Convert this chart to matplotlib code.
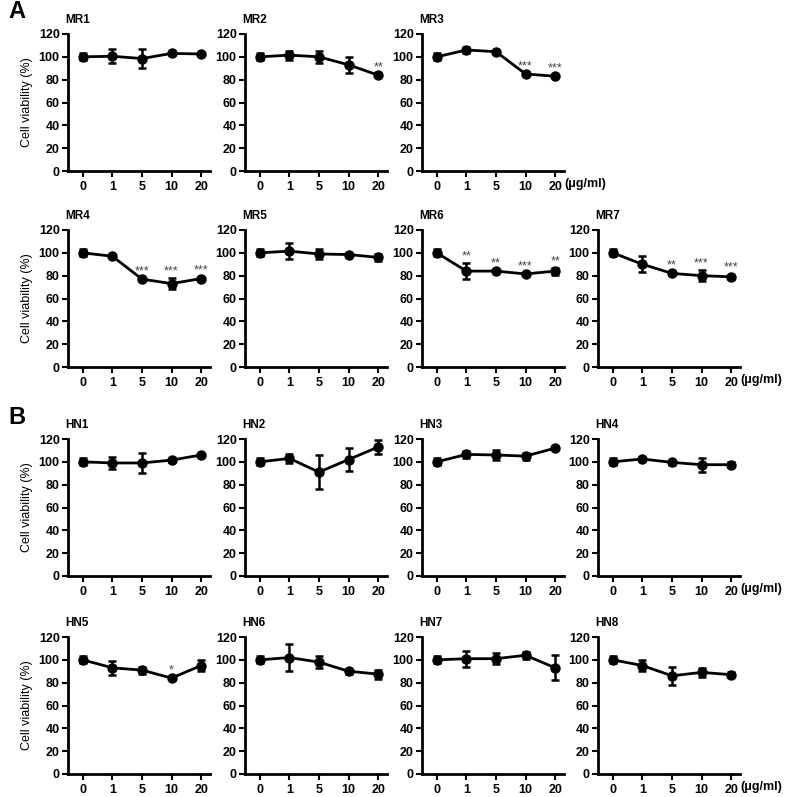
import matplotlib.pyplot as plt

plt.rcParams['font.family'] = ['Liberation Sans', 'DejaVu Sans']

doses = ['0', '1', '5', '10', '20']

# mean viability (%) and error for each cell line
mr1 = [100, 100.5, 98.5, 103, 102.5]
mr1_err = [3, 6, 8, 1, 1]
mr2 = [100, 101.5, 100, 93, 84]
mr2_err = [3, 4, 5, 7, 1]
mr3 = [100, 106, 104.5, 85, 83]
mr3_err = [3, 3, 1, 1, 1]
mr4 = [100, 97, 77, 73, 77.5]
mr4_err = [3, 1, 1, 5, 1]
mr5 = [100, 101.5, 99, 98.5, 96]
mr5_err = [3, 7, 4, 1, 3]
mr6 = [100, 84, 84, 81.5, 84]
mr6_err = [3, 7, 1, 1, 3]
mr7 = [100, 90, 82, 80, 79]
mr7_err = [3, 7, 1, 5, 2]

hn1 = [100, 99, 99, 101.5, 106]
hn1_err = [3, 5, 9, 2, 1]
hn2 = [100, 103, 91, 102, 113]
hn2_err = [3, 4, 15, 10, 6]
hn3 = [100, 106.5, 106, 105, 112]
hn3_err = [3, 3, 4, 3, 1]
hn4 = [100, 102.5, 99.5, 97.5, 97.5]
hn4_err = [3, 1, 2, 6, 2]
hn5 = [100, 93, 91, 84, 95]
hn5_err = [3, 6, 3, 1, 5]
hn6 = [100, 102, 98, 90, 87.5]
hn6_err = [3, 12, 5, 2, 4]
hn7 = [100, 101, 101, 104, 93]
hn7_err = [3, 7, 5, 3, 11]
hn8 = [100, 95, 86, 89, 87]
hn8_err = [3, 5, 8, 4, 2]

# significance marks per dose
mr2_sig = ['', '', '', '', '**']
mr3_sig = ['', '', '', '***', '***']
mr4_sig = ['', '', '***', '***', '***']
mr6_sig = ['', '**', '**', '***', '**']
mr7_sig = ['', '', '**', '***', '***']
hn5_sig = ['', '', '', '*', '']
none = ['', '', '', '', '']

# (name, values, err, stars, row, col)
panels = [
    ('MR1', mr1, mr1_err, none, 0, 0),
    ('MR2', mr2, mr2_err, mr2_sig, 0, 1),
    ('MR3', mr3, mr3_err, mr3_sig, 0, 2),
    ('MR4', mr4, mr4_err, mr4_sig, 1, 0),
    ('MR5', mr5, mr5_err, none, 1, 1),
    ('MR6', mr6, mr6_err, mr6_sig, 1, 2),
    ('MR7', mr7, mr7_err, mr7_sig, 1, 3),
    ('HN1', hn1, hn1_err, none, 2, 0),
    ('HN2', hn2, hn2_err, none, 2, 1),
    ('HN3', hn3, hn3_err, none, 2, 2),
    ('HN4', hn4, hn4_err, none, 2, 3),
    ('HN5', hn5, hn5_err, hn5_sig, 3, 0),
    ('HN6', hn6, hn6_err, none, 3, 1),
    ('HN7', hn7, hn7_err, none, 3, 2),
    ('HN8', hn8, hn8_err, none, 3, 3),
]
last_in_row = {'MR3', 'MR7', 'HN4', 'HN8'}

W, H = 786, 797
fig = plt.figure(figsize=(W / 100, H / 100), dpi=100)

col_x = [68, 245, 422, 598]
row_base = [171, 367, 576, 774]
ax_w, ax_h = 142, 137

x = list(range(len(doses)))
for name, vals, err, sig, r, c in panels:
    ax = fig.add_axes([col_x[c] / W, 1 - row_base[r] / H, ax_w / W, ax_h / H])
    ax.errorbar(x, vals, yerr=err, color='black', lw=2, marker='o', ms=6.5,
                capsize=3, capthick=1.8, elinewidth=1.8)
    for i, s in enumerate(sig):
        if s:
            ax.annotate(s, (i, vals[i] + err[i]), xytext=(0, 0.5), textcoords='offset points',
                        ha='center', va='bottom', fontsize=9, color='#444444')
    ax.set_xlim(-0.5, 4.3)
    ax.set_ylim(0, 120)
    ax.set_yticks(range(0, 121, 20))
    ax.set_xticks(x)
    ax.set_xticklabels(doses)
    for sp in ['top', 'right']:
        ax.spines[sp].set_visible(False)
    for sp in ['left', 'bottom']:
        ax.spines[sp].set_linewidth(2)
    ax.tick_params(width=1.5, length=4, labelsize=9)
    for lbl in ax.get_xticklabels() + ax.get_yticklabels():
        lbl.set_fontweight('bold')
    ax.xaxis.set_tick_params(pad=3)
    ax.yaxis.set_tick_params(pad=2)
    ax.set_title(name, loc='left', fontsize=8.5, fontweight='bold', x=-0.02, pad=8)
    if c == 0:
        ax.set_ylabel('Cell viability (%)', fontsize=9, labelpad=4)
    if name in last_in_row:
        ax.text(1.0, -0.095, '(μg/ml)', transform=ax.transAxes, ha='left', va='center',
                fontsize=9, fontweight='bold')

fig.text(8 / W, 1 - 12 / H, 'A', fontsize=17, fontweight='bold', va='center')
fig.text(8 / W, 1 - 418 / H, 'B', fontsize=17, fontweight='bold', va='center')

fig.savefig('out.png', dpi=100)
